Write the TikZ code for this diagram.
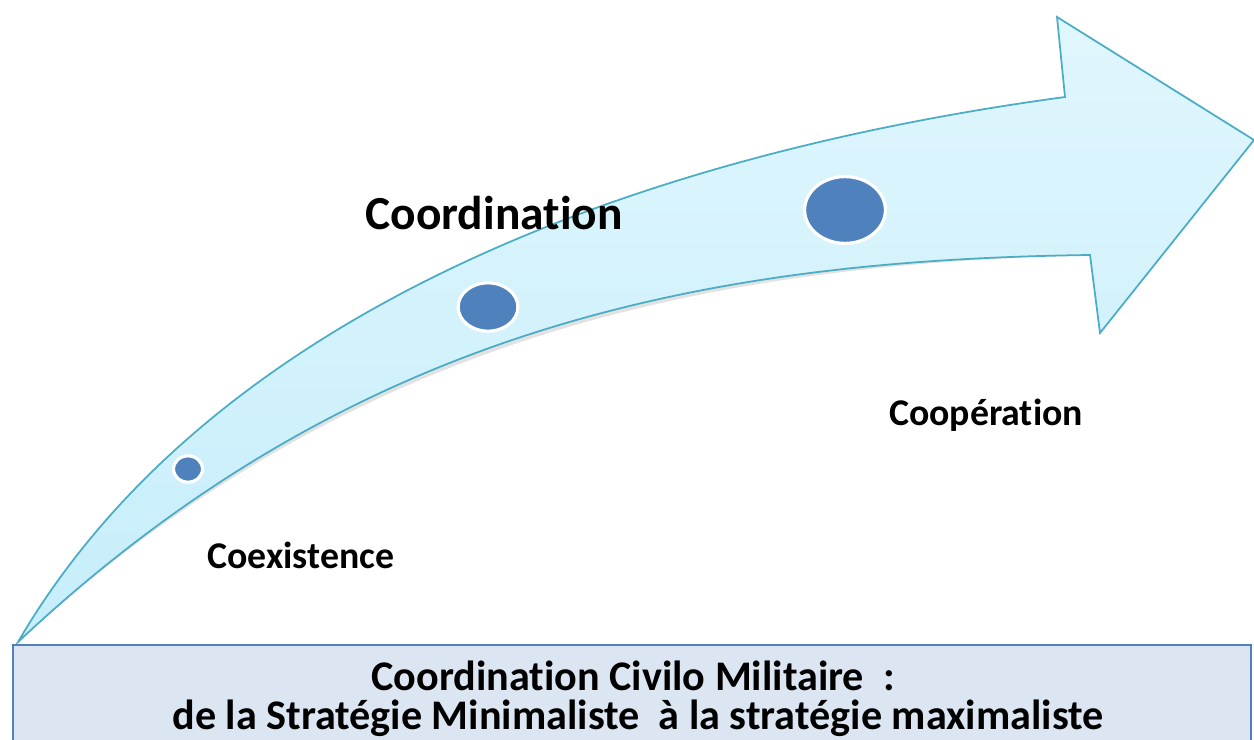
\documentclass[tikz,border=0pt]{standalone}
\usepackage{fontspec}
\setmainfont{Carlito}[Ligatures=NoCommon]
\usetikzlibrary{shadows,shapes.geometric}
\definecolor{arrowline}{HTML}{4BACC6}
\definecolor{arrowtop}{HTML}{E0F6FD}
\definecolor{arrowbot}{HTML}{C6EEFB}
\definecolor{dotfill}{HTML}{4F81BD}
\definecolor{boxfill}{HTML}{DCE6F2}
\definecolor{boxline}{HTML}{4F81BD}
\tikzset{
  dot/.style={ellipse, fill=dotfill, draw=white, line width=1.8pt, inner sep=0pt},
  lbl/.style={font=\bfseries, text=black, inner sep=0pt},
}
\begin{document}
\begin{tikzpicture}[x=0.02cm,y=-0.02cm]
\useasboundingbox (0,0) rectangle (1254,740);
% arrow
\coordinate (tail) at (18,642);
\coordinate (ntop) at (1065,97);
\coordinate (htop) at (1057,17);
\coordinate (tip) at (1254,140);
\coordinate (hbot) at (1100,333);
\coordinate (nbot) at (1090,255);
\fill[black!25, opacity=0.45, xshift=2, yshift=-3]
  (tail) .. controls (200,330) and (600,160) .. (ntop) -- (htop) -- (tip) -- (hbot) -- (nbot)
  .. controls (700,260) and (350,330) .. (tail) -- cycle;
\draw[arrowline, line width=1pt, top color=arrowtop, bottom color=arrowbot, shading angle=0]
  (tail) .. controls (200,330) and (600,160) .. (ntop) -- (htop) -- (tip) -- (hbot) -- (nbot)
  .. controls (700,260) and (350,330) .. (tail) -- cycle;
% dots
\node[dot, minimum width=16.5pt, minimum height=15pt] (d1) at (188,469) {};
\node[dot, minimum width=34pt, minimum height=27.5pt] (d2) at (488,307) {};
\node[dot, minimum width=46pt, minimum height=38pt] (d3) at (845,210) {};
% labels
\node[lbl, font=\fontsize{27}{30}\selectfont\bfseries] (coord) at (494,213) {Coordination};
\node[lbl, font=\fontsize{21.5}{24}\selectfont\bfseries] (coex) at (301,555) {Coexistence};
\node[lbl, font=\fontsize{21.5}{24}\selectfont\bfseries] (coop) at (986,415) {Coopération};
% box
\draw[boxline, fill=boxfill, line width=1.2pt] (13,645) rectangle (1251,760);
\node[lbl, font=\fontsize{24}{27}\selectfont\bfseries] (t1) at (633,676) {Coordination Civilo Militaire~~:};
\node[lbl, font=\fontsize{24}{27}\selectfont\bfseries] (t2) at (638,718) {de la Stratégie Minimaliste~ à la stratégie maximaliste};
\end{tikzpicture}
\end{document}
